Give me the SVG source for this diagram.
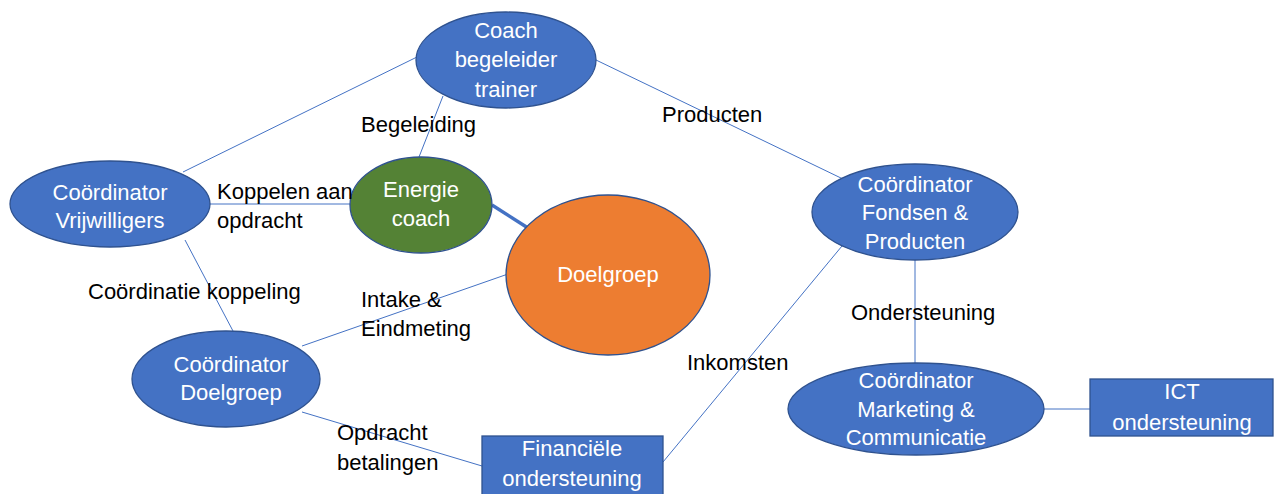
<svg xmlns="http://www.w3.org/2000/svg" width="1280" height="494" viewBox="0 0 1280 494">
<style>
.n{fill:#4472C4;stroke:#2F528F;stroke-width:1.3}
.g{fill:#548235;stroke:#2F528F;stroke-width:1.3}
.o{fill:#ED7D31;stroke:#2F528F;stroke-width:1.3}
.t{font-family:"Liberation Sans",Arial,sans-serif;font-size:22px;fill:#fff;text-anchor:middle}
.l{font-family:"Liberation Sans",Arial,sans-serif;font-size:22px;fill:#000}
.c{stroke:#4472C4;stroke-width:1;fill:none}
</style>
<rect width="1280" height="494" fill="#fff"/>
<g id="connectors">
<line class="c" x1="417" y1="57" x2="183" y2="172"/>
<line class="c" x1="443" y1="96" x2="419" y2="157"/>
<line class="c" x1="596" y1="60" x2="843" y2="179"/>
<line class="c" x1="210" y1="204" x2="350" y2="204"/>
<line class="c" x1="185" y1="240" x2="233" y2="331"/>
<line class="c" x1="302" y1="346" x2="508" y2="274"/>
<line class="c" x1="302" y1="412" x2="482" y2="466"/>
<line class="c" x1="663" y1="462" x2="842" y2="246"/>
<line class="c" x1="915" y1="260" x2="915" y2="363"/>
<line class="c" x1="1044" y1="409" x2="1090" y2="409"/>
<line stroke="#4472C4" stroke-width="3.5" x1="492" y1="205" x2="528" y2="228"/>
</g>
<g id="coach">
<ellipse class="n" cx="506" cy="60" rx="90" ry="48"/>
<text class="t" x="506" y="38">Coach</text>
<text class="t" x="506" y="67">begeleider</text>
<text class="t" x="506" y="97">trainer</text>
</g>
<g id="vrijwilligers">
<ellipse class="n" cx="110" cy="204" rx="100" ry="43"/>
<text class="t" x="110" y="200">Coördinator</text>
<text class="t" x="110" y="228">Vrijwilligers</text>
</g>
<g id="energiecoach">
<ellipse class="g" cx="421" cy="205" rx="71" ry="48"/>
<text class="t" x="421" y="197">Energie</text>
<text class="t" x="421" y="226">coach</text>
</g>
<g id="doelgroep">
<ellipse class="o" cx="608" cy="275" rx="102" ry="80"/>
<text class="t" x="608" y="282">Doelgroep</text>
</g>
<g id="fondsen">
<ellipse class="n" cx="915" cy="212" rx="103" ry="48"/>
<text class="t" x="915" y="192">Coördinator</text>
<text class="t" x="915" y="220">Fondsen &amp;</text>
<text class="t" x="915" y="249">Producten</text>
</g>
<g id="marketing">
<ellipse class="n" cx="916" cy="409" rx="128" ry="46"/>
<text class="t" x="916" y="388">Coördinator</text>
<text class="t" x="916" y="417">Marketing &amp;</text>
<text class="t" x="916" y="445">Communicatie</text>
</g>
<g id="ict">
<rect class="n" x="1090" y="379" width="183" height="57"/>
<text class="t" x="1182" y="399">ICT</text>
<text class="t" x="1182" y="430">ondersteuning</text>
</g>
<g id="coordinator-doelgroep">
<ellipse class="n" cx="226" cy="379" rx="94" ry="48"/>
<text class="t" x="231" y="372">Coördinator</text>
<text class="t" x="231" y="400">Doelgroep</text>
</g>
<g id="financiele">
<rect class="n" x="482" y="436" width="181" height="60"/>
<text class="t" x="572" y="456">Financiële</text>
<text class="t" x="572" y="486">ondersteuning</text>
</g>
<g id="labels">
<text class="l" x="361" y="132">Begeleiding</text>
<text class="l" x="662" y="122">Producten</text>
<text class="l" x="217" y="199">Koppelen aan</text>
<text class="l" x="217" y="228">opdracht</text>
<text class="l" x="88" y="299">Coördinatie koppeling</text>
<text class="l" x="361" y="307">Intake &amp;</text>
<text class="l" x="361" y="336">Eindmeting</text>
<text class="l" x="851" y="320">Ondersteuning</text>
<text class="l" x="687" y="370">Inkomsten</text>
<text class="l" x="337" y="440">Opdracht</text>
<text class="l" x="337" y="470">betalingen</text>
</g>
</svg>
